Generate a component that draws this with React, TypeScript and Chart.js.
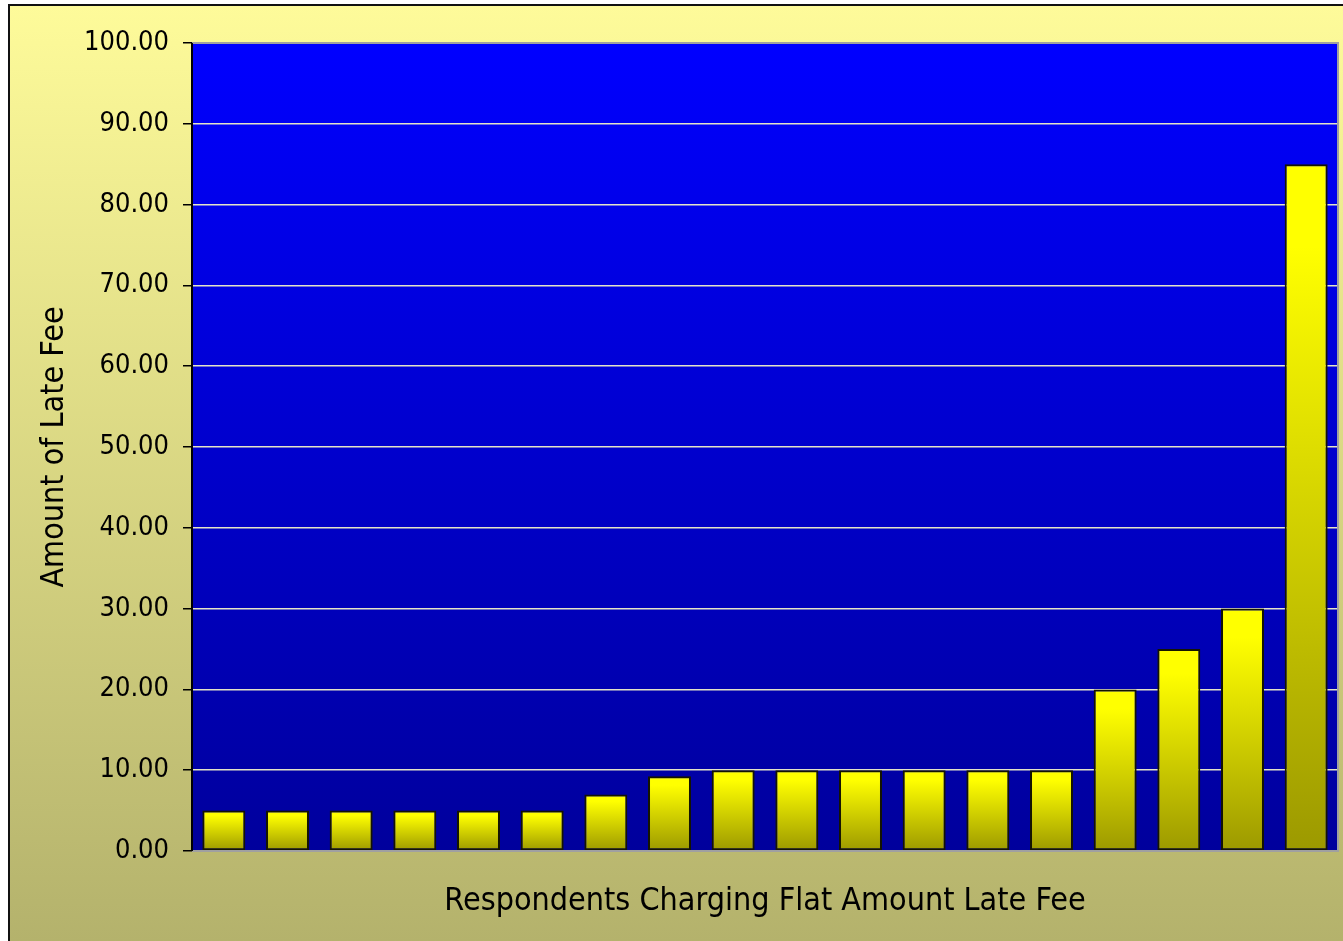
import React, { useEffect, useRef } from "react";
import { Chart, registerables } from "chart.js";

Chart.register(...registerables);

const categories = ["1","2","3","4","5","6","7","8","9","10","11","12","13","14","15","16","17","18"];
const lateFees = [5, 5, 5, 5, 5, 5, 7, 9.25, 10, 10, 10, 10, 10, 10, 20, 25, 30, 85];
const yMin = 0;
const yMax = 100;
const yStep = 10;
const yTitle = "Amount of Late Fee";
const xTitle = "Respondents Charging Flat Amount Late Fee";

const FONT = "'DejaVu Sans Condensed', 'DejaVu Sans', sans-serif";

const bgPlugin = {
  id: "bgPlugin",
  beforeDraw(chart: any) {
    const { ctx, width, height, chartArea } = chart;
    ctx.save();
    ctx.fillStyle = "#ffffff";
    ctx.fillRect(0, 0, width, height);
    const g = ctx.createLinearGradient(0, 4, 0, height);
    g.addColorStop(0, "#FEFB9A");
    g.addColorStop(1, "#B4B26C");
    ctx.fillStyle = g;
    ctx.fillRect(8, 4, width - 8, height - 4);
    ctx.strokeStyle = "#111111";
    ctx.lineWidth = 2;
    ctx.strokeRect(9, 5, width + 10, height + 10);
    const pg = ctx.createLinearGradient(0, chartArea.top, 0, chartArea.bottom);
    pg.addColorStop(0, "#0000FF");
    pg.addColorStop(1, "#00009C");
    ctx.fillStyle = pg;
    ctx.fillRect(chartArea.left, chartArea.top, chartArea.right - chartArea.left, chartArea.bottom - chartArea.top);
    ctx.restore();
  },
  afterDatasetsDraw(chart: any) {
    const { ctx, chartArea } = chart;
    ctx.save();
    ctx.strokeStyle = "#A0A0A0";
    ctx.lineWidth = 2;
    ctx.beginPath();
    ctx.moveTo(chartArea.left, chartArea.top);
    ctx.lineTo(chartArea.right, chartArea.top);
    ctx.lineTo(chartArea.right, chartArea.bottom);
    ctx.lineTo(chartArea.left, chartArea.bottom);
    ctx.stroke();
    ctx.strokeStyle = "#000000";
    ctx.beginPath();
    ctx.moveTo(chartArea.left, chartArea.top);
    ctx.lineTo(chartArea.left, chartArea.bottom);
    ctx.stroke();
    ctx.restore();
  },
};

export default function App() {
  const ref = useRef<HTMLCanvasElement | null>(null);
  useEffect(() => {
    if (!ref.current) return;
    const chart = new Chart(ref.current, {
      type: "bar",
      data: {
        labels: categories,
        datasets: [
          {
            data: lateFees,
            backgroundColor: (c: any) => {
              const ch = c.chart;
              const ys = ch.scales && ch.scales.y;
              if (!ys || c.type !== "data") return "#FFFF00";
              const top = ys.getPixelForValue(c.raw);
              const bottom = ys.getPixelForValue(0);
              if (!isFinite(top) || !isFinite(bottom) || top === bottom) return "#FFFF00";
              const g = ch.ctx.createLinearGradient(0, top, 0, bottom);
              g.addColorStop(0, "#FFFF00");
              g.addColorStop(0.12, "#FFFF00");
              g.addColorStop(1, "#9C9900");
              return g;
            },
            borderColor: "#151500",
            borderWidth: 2,
            borderSkipped: false,
            barPercentage: 0.675,
            categoryPercentage: 1,
          },
        ],
      },
      options: {
        animation: false,
        responsive: false,
        layout: { padding: { top: 43, right: 5, left: 0, bottom: 0 } },
        plugins: {
          legend: { display: false },
          tooltip: { enabled: false },
        },
        scales: {
          x: {
            grid: { display: false },
            border: { display: false },
            ticks: { display: false },
            title: {
              display: true,
              text: xTitle,
              color: "#000000",
              font: { family: FONT, size: 32 },
              padding: { top: 0, bottom: 20 },
            },
            afterFit: (s: any) => {
              s.height = 90;
            },
          },
          y: {
            min: yMin,
            max: yMax,
            grid: {
              color: "#E4E4C8",
              lineWidth: 1.5,
              tickColor: "#000000",
              tickLength: 9,
              drawTicks: true,
            },
            border: { display: false },
            ticks: {
              stepSize: yStep,
              color: "#000000",
              padding: 14,
              font: { family: FONT, size: 27 },
              callback: (v: any) => Number(v).toFixed(2),
            },
            title: {
              display: true,
              text: yTitle,
              color: "#000000",
              font: { family: FONT, size: 32 },
              padding: { top: 35, bottom: 0 },
            },
            afterFit: (s: any) => {
              s.width = 192;
            },
          },
        },
      },
      plugins: [bgPlugin],
    });
    return () => chart.destroy();
  }, []);
  return (
    <div style={{ position: "absolute", left: 0, top: 0, width: 1343, height: 941 }}>
      <canvas ref={ref} width={1343} height={941} style={{ width: 1343, height: 941, display: "block" }} />
    </div>
  );
}
